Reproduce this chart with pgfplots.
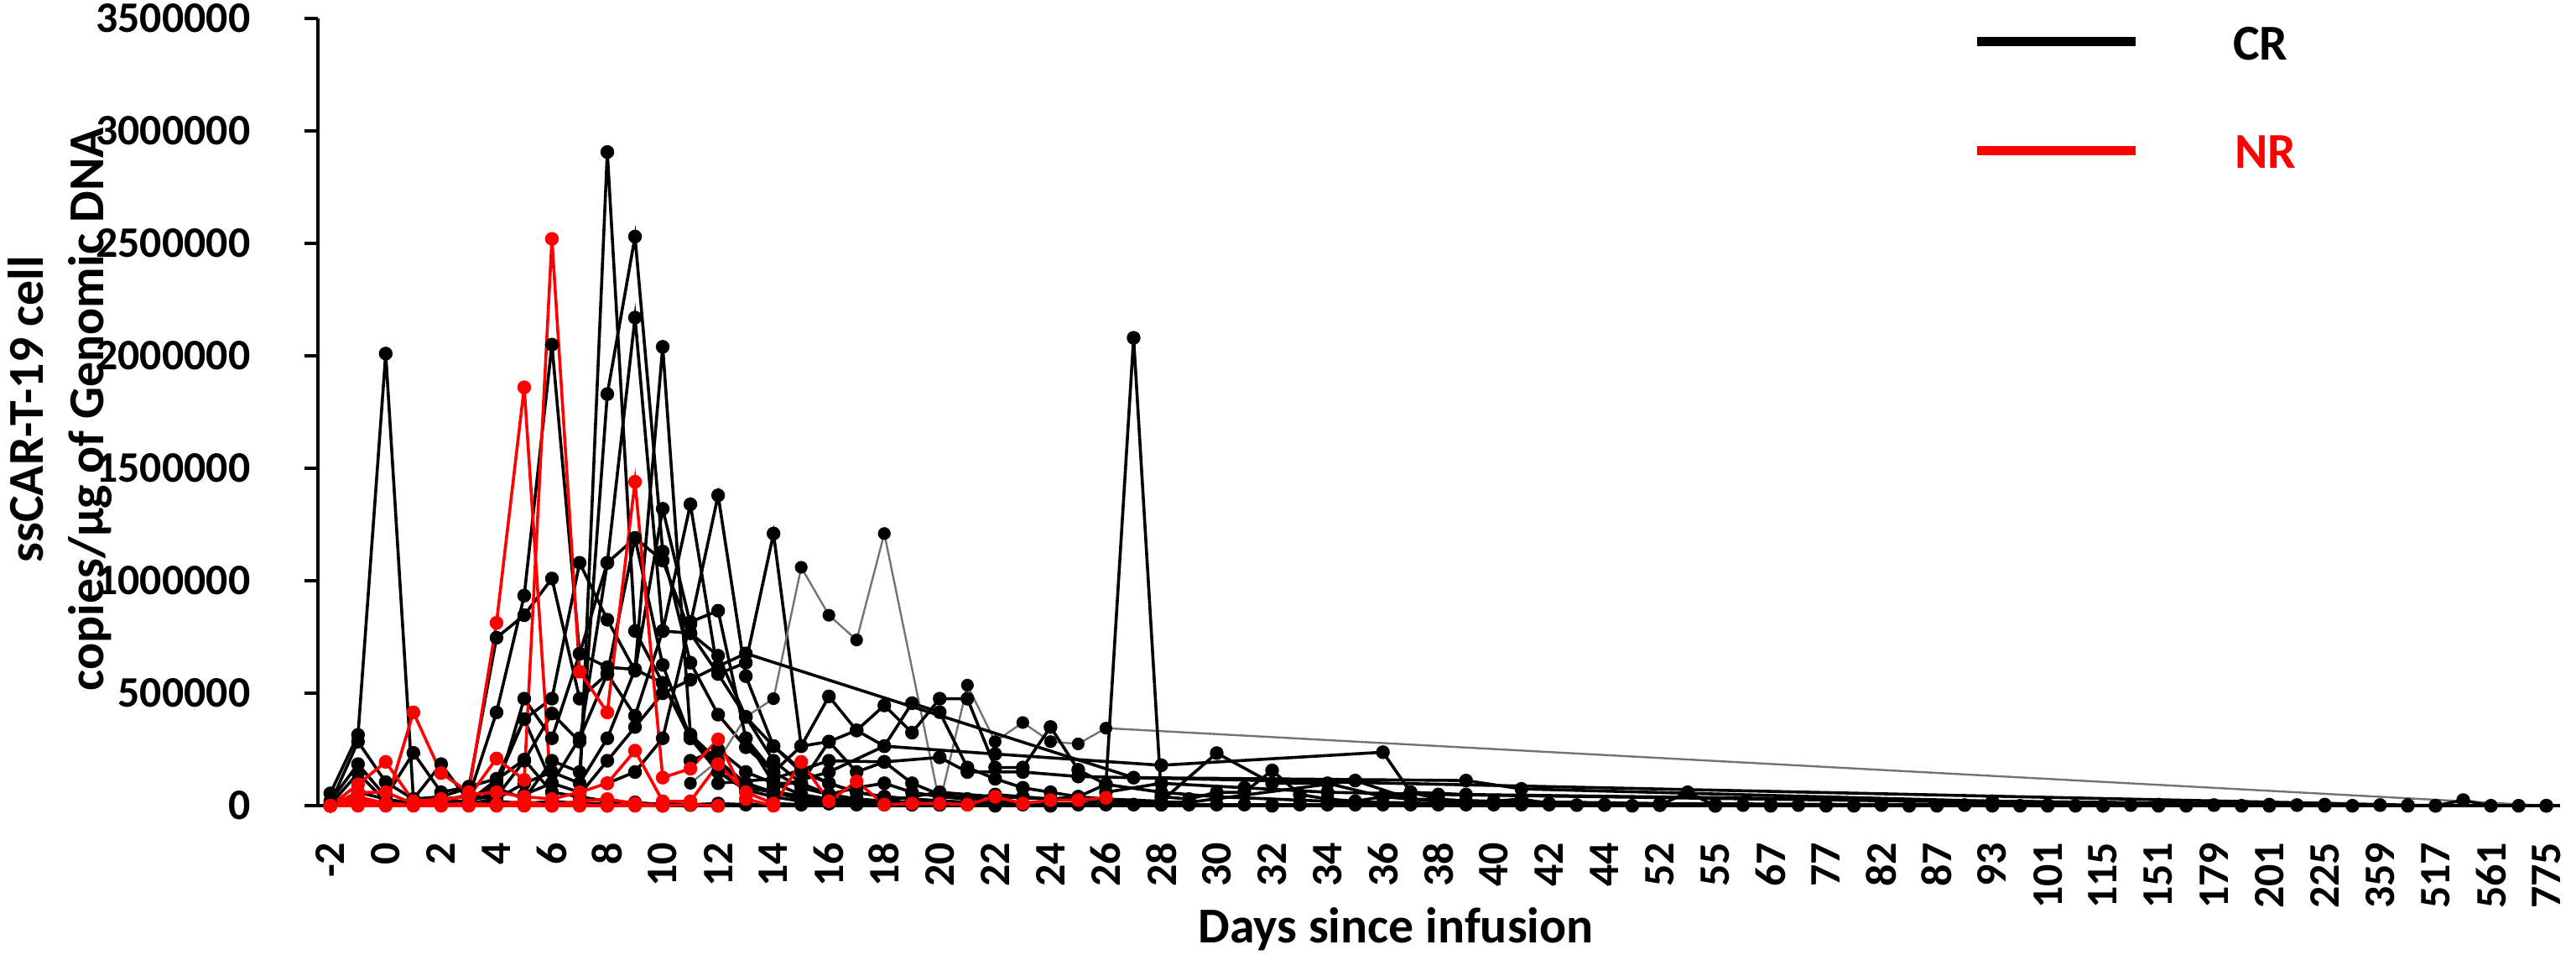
\documentclass[border=0pt]{standalone}
\usepackage{pgfplots}
\pgfplotsset{compat=1.18}
\usepackage{fontspec}
\setmainfont{Carlito}
\begin{document}
\pgfplotsset{
  cr/.style={black, line width=0.9pt, mark=*, mark size=1.6pt, mark options={solid, fill=black, draw=black}},
  crg/.style={black!55, line width=0.6pt, mark=*, mark size=1.6pt, mark options={solid, fill=black, draw=black}},
  nr/.style={red, line width=0.9pt, mark=*, mark size=1.6pt, mark options={solid, fill=red, draw=red}},
}
\begin{tikzpicture}
\useasboundingbox (0,0) rectangle (767.75pt,285.25pt);
\begin{axis}[
  at={(92.75pt,44.5pt)}, anchor=south west,
  scale only axis, width=670.25pt, height=235.25pt,
  xmin=-0.45, xmax=80.5, ymin=0, ymax=3500000,
  axis x line*=bottom, axis y line*=left,
  axis line style={line width=0.9pt, black},
  clip=false,
  xtick={0,2,...,80},
  xticklabels={-2,0,2,4,6,8,10,12,14,16,18,20,22,24,26,28,30,32,34,36,38,40,42,44,52,55,67,77,82,87,93,101,115,151,179,201,225,359,517,561,775},
  xtick style={draw=none},
  ytick={0,500000,1000000,1500000,2000000,2500000,3000000,3500000},
  yticklabels={0,500000,1000000,1500000,2000000,2500000,3000000,3500000},
  scaled y ticks=false,
  tick align=outside,
  ytick style={line width=0.9pt, black},
  major tick length=4pt,
  xticklabel style={rotate=90, anchor=east, inner sep=0pt, font=\fontsize{13}{15}\selectfont\bfseries},
  yticklabel style={anchor=east, inner sep=0pt, font=\fontsize{13}{15}\selectfont\bfseries},
  xticklabel shift=6.75pt,
  yticklabel shift=16pt,
  /pgf/number format/assume math mode=true,
]
% ---- CR ----
\addplot[cr] coordinates {(0,55000)(1,315000)(2,2010000)(3,30000)(4,185000)(5,20000)(6,115000)(7,205000)(8,60000)(9,40000)(10,20000)(11,15000)(12,5000)(13,3000)(14,0)};
\addplot[cr] coordinates {(0,20000)(1,185000)(2,40000)(3,235000)(4,60000)(5,85000)(6,120000)(7,385000)(8,100000)(9,60000)(10,2906000)(11,777000)(12,546000)(13,316000)(14,150000)(15,80000)(16,60000)(17,40000)(18,30000)(19,20000)(20,10000)(22,5000)(24,0)};
\addplot[cr] coordinates {(0,5000)(1,145000)(2,20000)(3,10000)(4,30000)(5,40000)(6,80000)(7,30000)(8,200000)(9,150000)(10,1830000)(11,2530000)(12,1130000)(13,636000)(14,405000)(15,260000)(16,150000)(17,80000)(18,50000)(19,30000)(20,20000)(22,10000)(24,5000)(26,0)};
\addplot[cr] coordinates {(0,0)(1,60000)(2,30000)(3,10000)(4,20000)(5,20000)(6,60000)(7,476000)(8,300000)(9,676000)(10,1080000)(11,2170000)(12,777000)(13,767000)(14,586000)(15,395000)(16,265000)(17,160000)(18,100000)(19,60000)(20,40000)(21,30000)(23,15000)(26,10000)(30,5000)(34,0)};
\addplot[cr] coordinates {(0,0)(1,30000)(2,10000)(3,20000)(4,30000)(5,40000)(6,415000)(7,934000)(8,2050000)(9,676000)(10,616000)(11,606000)(12,546000)(13,300000)(14,150000)(15,70000)(16,40000)(17,20000)(18,10000)(20,5000)};
\addplot[cr] coordinates {(5,10000)(6,30000)(7,100000)(8,150000)(9,100000)(10,300000)(11,606000)(12,2040000)(13,316000)(14,200000)(15,100000)(16,60000)(17,30000)(18,20000)(19,10000)(21,5000)};
\addplot[cr] coordinates {(0,10000)(1,285000)(2,105000)(3,30000)(4,40000)(5,80000)(6,747000)(7,847000)(8,1010000)(9,476000)(10,586000)(11,1190000)(12,626000)(13,300000)(14,180000)(15,100000)(16,60000)(18,30000)(20,15000)(22,5000)};
\addplot[cr] coordinates {(5,20000)(6,100000)(7,385000)(8,476000)(9,1080000)(10,827000)(11,600000)(12,1320000)(13,807000)(14,1380000)(15,576000)(16,265000)(17,150000)(18,100000)(19,60000)(20,40000)(22,20000)(24,10000)};
\addplot[cr] coordinates {(5,30000)(6,40000)(7,200000)(8,410000)(9,285000)(10,1080000)(11,1190000)(12,1090000)(13,767000)(14,667000)(15,395000)(16,200000)(17,100000)(18,50000)(19,30000)(20,20000)};
\addplot[cr] coordinates {(7,50000)(8,100000)(9,300000)(10,586000)(11,400000)(12,777000)(13,1340000)(14,586000)(15,636000)(16,1210000)(17,265000)(18,285000)(19,150000)(20,195000)(21,100000)(22,50000)(24,20000)(26,10000)};
\addplot[crg] coordinates {(13,100000)(14,200000)(15,395000)(16,476000)(17,1060000)(18,847000)(19,737000)(20,1210000)(22,10000)(23,536000)(24,285000)(25,370000)(26,285000)(27,275000)(28,345000)(80,0)};
\addplot[cr] coordinates {(9,50000)(10,200000)(11,350000)(12,500000)(13,560000)(14,620000)(15,677000)(29,125000)(41,112000)(43,75000)(60,20000)(72,5000)};
\addplot[cr] coordinates {(18,50000)(19,80000)(20,100000)(21,60000)(22,40000)(23,30000)(24,50000)(25,40000)(26,30000)(27,40000)(28,95000)(29,2080000)(30,40000)(31,30000)(32,60000)(33,60000)(34,157000)(35,50000)(36,30000)(37,20000)(38,40000)(39,60000)(40,30000)(41,20000)(42,20000)(43,30000)(44,10000)(46,5000)(48,3000)(50,0)};
\addplot[cr] coordinates {(15,300000)(16,150000)(17,265000)(18,486000)(19,335000)(20,446000)(21,325000)(22,476000)(23,476000)(24,170000)(25,170000)(26,350000)(27,160000)(28,95000)(30,60000)(32,40000)(36,20000)(40,10000)(50,5000)(62,0)};
\addplot[cr] coordinates {(13,200000)(14,250000)(15,150000)(16,100000)(17,100000)(18,285000)(19,335000)(20,265000)(21,456000)(22,416000)(23,170000)(24,120000)(25,80000)(26,60000)(27,40000)(28,30000)(30,20000)(32,234000)(34,100000)(36,100000)(38,40000)(40,20000)(44,10000)(52,5000)(64,0)};
\addplot[cr] coordinates {(16,80000)(18,150000)(20,265000)(24,230000)(30,180000)(38,238000)(39,60000)(41,50000)(70,5000)};
\addplot[cr] coordinates {(14,100000)(16,120000)(18,200000)(20,195000)(22,215000)(23,150000)(25,150000)(27,130000)(75,3000)};
\addplot[cr] coordinates {(10,100000)(11,150000)(12,300000)(13,817000)(14,867000)(15,300000)(16,100000)(17,50000)(18,30000)(20,20000)(22,60000)(24,40000)(26,30000)(28,20000)(31,15000)(37,112000)(39,30000)(42,20000)(48,10000)(56,5000)(66,3000)(76,0)};
\addplot[cr] coordinates {(28,60000)(30,100000)(33,80000)(36,60000)(40,50000)(66,5000)(80,0)};
\addplot[cr] coordinates {(0,0)(1,10000)(2,5000)(3,5000)(4,10000)(5,5000)(6,20000)(7,10000)(8,20000)(9,10000)(10,10000)(11,5000)(12,10000)(13,5000)(14,10000)(15,5000)(16,10000)(17,5000)(18,10000)(19,5000)(20,10000)(21,5000)(22,5000)(23,5000)(24,5000)(25,5000)(26,5000)(27,5000)(28,5000)(29,5000)(30,5000)(31,5000)(32,5000)(33,5000)(34,5000)(35,5000)(36,5000)(37,5000)(38,5000)(39,5000)(40,5000)(41,5000)(42,5000)(43,5000)(44,5000)(45,3000)(46,3000)(47,0)(48,3000)(49,60000)(50,0)(51,3000)(52,0)(53,3000)(54,0)(55,0)(56,3000)(57,0)(58,0)(59,3000)(60,0)(61,0)(62,3000)(63,0)(64,0)(65,3000)(66,0)(67,0)(68,3000)(69,0)(70,0)(71,3000)(72,0)(73,0)(74,3000)(75,0)(76,0)(77,25000)(78,0)(79,0)(80,0)};
% ---- NR ----
\addplot[nr] coordinates {(0,0)(1,20000)(2,5000)(3,415000)(4,145000)(5,60000)(6,813000)(7,1860000)(8,5000)(9,20000)(10,30000)(11,10000)(12,0)};
\addplot[nr] coordinates {(0,0)(1,95000)(2,195000)(3,20000)(4,30000)(5,40000)(6,210000)(7,115000)(8,2520000)(9,596000)(10,415000)(11,1440000)(12,125000)(13,165000)(14,295000)(15,30000)(16,0)(17,195000)(18,20000)(19,108000)(20,5000)(21,10000)(22,10000)(23,5000)(24,40000)(25,10000)(26,25000)(27,25000)(28,35000)};
\addplot[nr] coordinates {(0,0)(1,40000)(2,10000)(3,5000)(4,20000)(5,50000)(6,60000)(7,40000)(8,30000)(9,60000)(10,100000)(11,245000)(12,20000)(13,20000)(14,185000)(15,60000)(16,10000)};
\addplot[nr] coordinates {(0,0)(1,60000)(2,60000)(3,10000)(4,5000)(5,10000)(6,5000)(7,20000)(8,0)(9,5000)(10,0)(11,10000)(12,0)(13,5000)(14,0)};
\addplot[nr] coordinates {(0,0)(1,0)(2,0)(3,0)(4,0)(5,0)(6,0)(7,0)(8,0)(9,0)(10,0)(11,0)(12,0)};
\end{axis}
% axis title and y label
\node[anchor=base, inner sep=0pt, font=\fontsize{15}{18}\selectfont\bfseries] at (415pt,3.5pt) {Days since infusion};
\node[rotate=90, anchor=base, inner sep=0pt, font=\fontsize{15}{18}\selectfont\bfseries] at (10.75pt,163pt) {ssCAR-T-19 cell};
\node[rotate=90, anchor=base, inner sep=0pt, font=\fontsize{15}{18}\selectfont\bfseries] at (28.75pt,163pt) {copies/μg of Genomic DNA};
% legend
\draw[black, line width=2.75pt] (588.75pt,272.75pt) -- (636pt,272.75pt);
\draw[red, line width=2.75pt] (588.75pt,240.25pt) -- (636pt,240.25pt);
\node[anchor=west, inner sep=0pt, font=\fontsize{15}{18}\selectfont\bfseries] at (665pt,272.25pt) {CR};
\node[anchor=west, inner sep=0pt, text=red, font=\fontsize{15}{18}\selectfont\bfseries] at (665.5pt,239.75pt) {NR};
\end{tikzpicture}
\end{document}
